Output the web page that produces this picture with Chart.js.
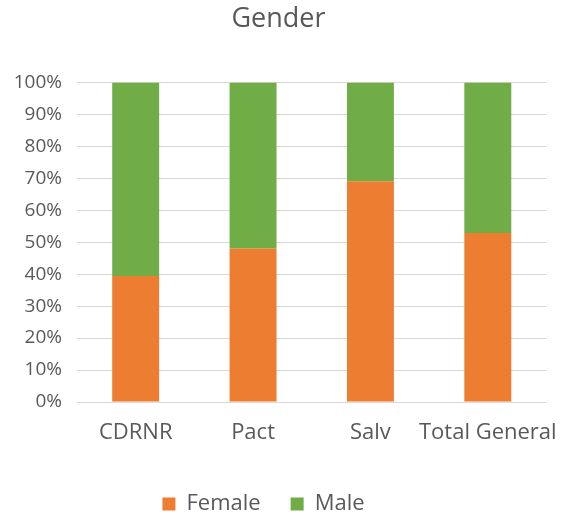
<!DOCTYPE html>
<html>
<head>
<meta charset="utf-8">
<script src="https://cdn.jsdelivr.net/npm/chart.js@4"></script>
<style>
  html, body { margin: 0; padding: 0; background: #fff; }
  #wrap { width: 568px; height: 515px; }
</style>
</head>
<body>
<div id="wrap"><canvas id="genderChart"></canvas></div>
<script>
const categories = ["CDRNR", "Pact", "Salv", "Total General"];
const female = [39.4, 48.0, 69.1, 52.9];
const male = [60.6, 52.0, 30.9, 47.1];
const yTicks = [0, 10, 20, 30, 40, 50, 60, 70, 80, 90, 100];

const textColor = "#595959";
const fontFamily = "'Open Sans', 'Noto Sans', sans-serif";

// the legend sits a little left of the canvas centre in the original
const shiftLegend = {
  id: "shiftLegend",
  afterLayout(chart) {
    chart.legend.left -= 15;
    chart.legend.right -= 15;
  }
};

const ctx = document.getElementById("genderChart").getContext("2d");

new Chart(ctx, {
  type: "bar",
  data: {
    labels: categories,
    datasets: [
      { label: "Female", data: female, backgroundColor: "#ED7D31" },
      { label: "Male", data: male, backgroundColor: "#70AD47" }
    ]
  },
  plugins: [shiftLegend],
  options: {
    responsive: true,
    maintainAspectRatio: false,
    animation: false,
    layout: { padding: { left: 0, right: 11, top: 0, bottom: -10 } },
    datasets: { bar: { barPercentage: 0.4, categoryPercentage: 1 } },
    plugins: {
      title: {
        display: true,
        text: "Gender",
        color: textColor,
        font: { family: fontFamily, size: 27, weight: "normal" },
        padding: { top: 3, bottom: 47 }
      },
      legend: {
        position: "bottom",
        labels: {
          color: textColor,
          font: { family: fontFamily, size: 22 },
          boxWidth: 13,
          boxHeight: 13,
          padding: 30
        }
      },
      tooltip: { enabled: false }
    },
    scales: {
      x: {
        stacked: true,
        grid: { display: false },
        border: { display: false },
        ticks: {
          color: textColor,
          font: { family: fontFamily, size: 22 },
          padding: 10,
          maxRotation: 0,
          autoSkip: false
        },
        afterFit: s => { s.height = 61; }
      },
      y: {
        stacked: true,
        min: 0,
        max: 100,
        afterBuildTicks: s => { s.ticks = yTicks.map(v => ({ value: v })); },
        grid: { color: "#d9d9d9", drawTicks: false },
        border: { display: false },
        ticks: {
          color: textColor,
          font: { family: fontFamily, size: 19 },
          padding: 15,
          callback: v => v + "%"
        },
        afterFit: s => { s.width = 77; }
      }
    }
  }
});
</script>
</body>
</html>
